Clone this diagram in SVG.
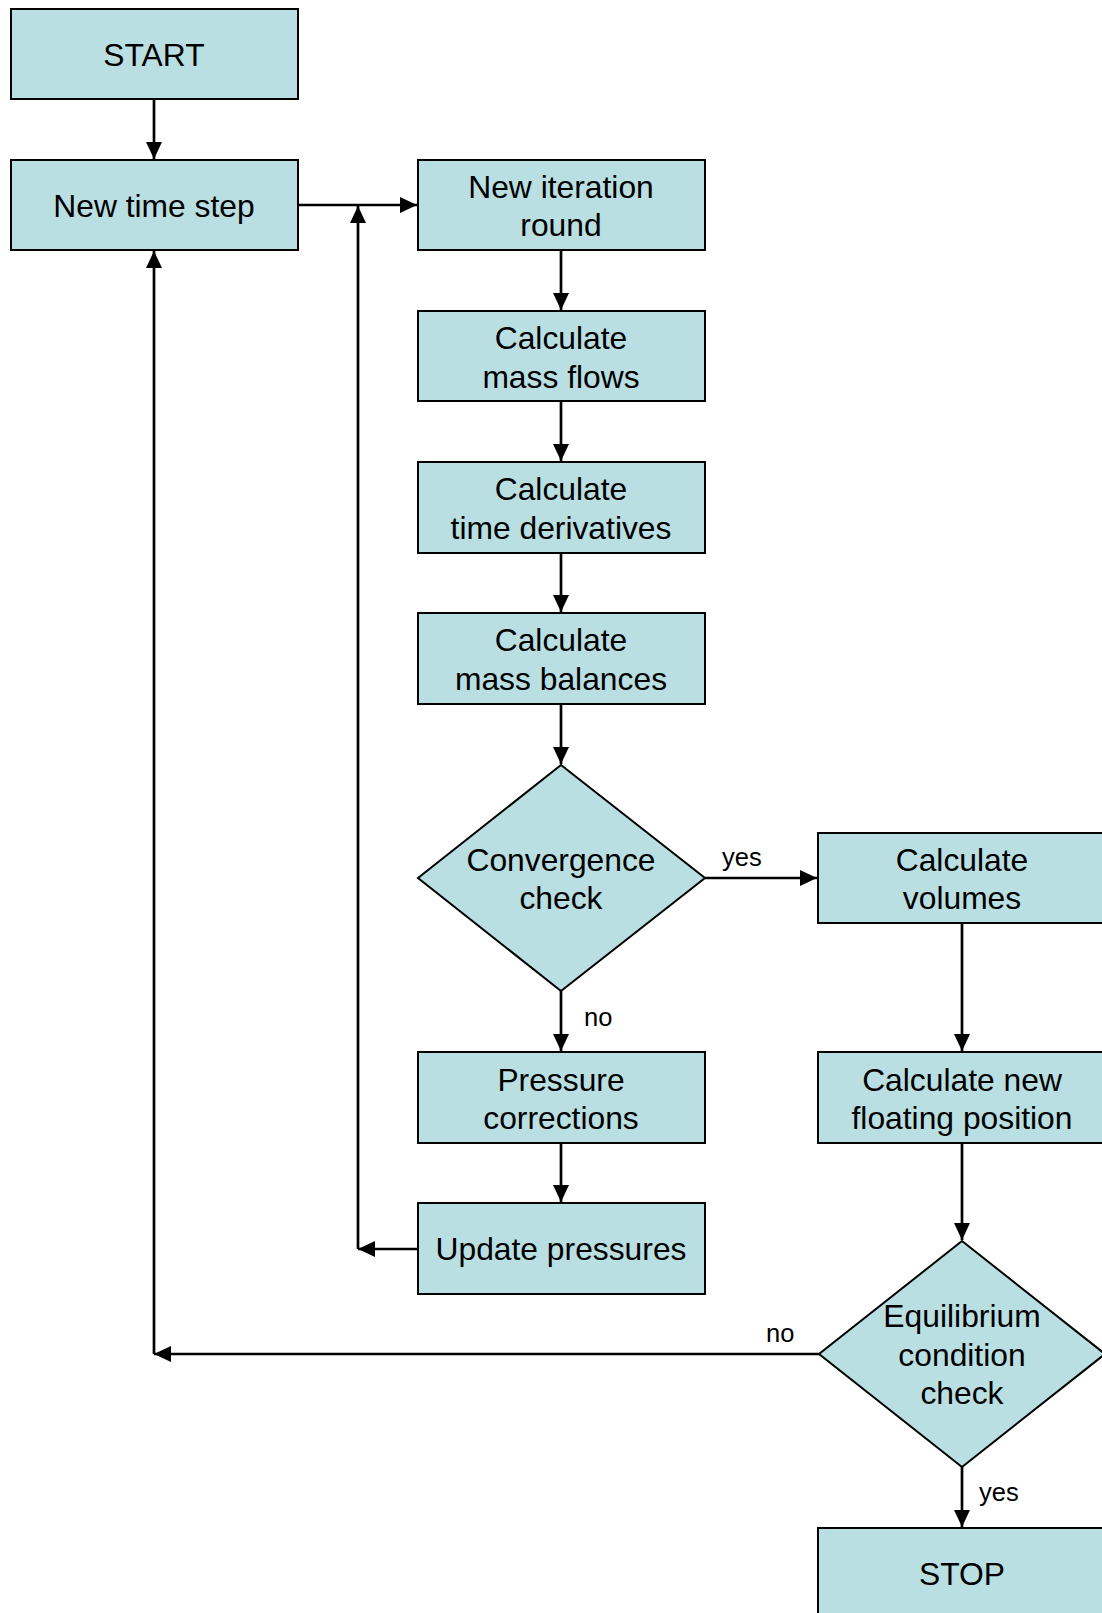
<svg xmlns="http://www.w3.org/2000/svg" width="1102" height="1613" viewBox="0 0 1102 1613">
<style>
.box{fill:#B9DFE2;stroke:#000;stroke-width:2}
.t{font-family:"Liberation Sans",Arial,sans-serif;font-size:31.8px;fill:#000;text-anchor:middle}
.l{font-family:"Liberation Sans",Arial,sans-serif;font-size:25.5px;fill:#000}
.c{fill:none;stroke:#000;stroke-width:2.7}
</style>
<defs>
<marker id="ah" markerUnits="userSpaceOnUse" markerWidth="17" markerHeight="16" refX="17" refY="8" orient="auto">
<path d="M0,0 L17,8 L0,16 z" fill="#000"/>
</marker>
</defs>
<rect width="1102" height="1613" fill="#fff"/>
<g id="connectors">
<line class="c" x1="154" y1="99" x2="154" y2="159" marker-end="url(#ah)"/>
<line class="c" x1="298" y1="205" x2="417" y2="205" marker-end="url(#ah)"/>
<line class="c" x1="561" y1="250" x2="561" y2="310" marker-end="url(#ah)"/>
<line class="c" x1="561" y1="401" x2="561" y2="461" marker-end="url(#ah)"/>
<line class="c" x1="561" y1="553" x2="561" y2="612" marker-end="url(#ah)"/>
<line class="c" x1="561" y1="704" x2="561" y2="764" marker-end="url(#ah)"/>
<line class="c" x1="561" y1="991" x2="561" y2="1051" marker-end="url(#ah)"/>
<line class="c" x1="561" y1="1143" x2="561" y2="1202" marker-end="url(#ah)"/>
<line class="c" x1="418" y1="1249" x2="358" y2="1249" marker-end="url(#ah)"/>
<line class="c" x1="358" y1="1249" x2="358" y2="206" marker-end="url(#ah)"/>
<line class="c" x1="705" y1="878" x2="817" y2="878" marker-end="url(#ah)"/>
<line class="c" x1="962" y1="923" x2="962" y2="1051" marker-end="url(#ah)"/>
<line class="c" x1="962" y1="1143" x2="962" y2="1240" marker-end="url(#ah)"/>
<line class="c" x1="962" y1="1467" x2="962" y2="1527" marker-end="url(#ah)"/>
<line class="c" x1="819" y1="1354" x2="154" y2="1354" marker-end="url(#ah)"/>
<line class="c" x1="154" y1="1354" x2="154" y2="251" marker-end="url(#ah)"/>
<text class="l" x="722" y="866">yes</text>
<text class="l" x="584" y="1026">no</text>
<text class="l" x="766" y="1342">no</text>
<text class="l" x="979" y="1501">yes</text>
</g>
<g id="start"><rect class="box" x="11" y="9" width="287" height="90"/><text class="t" x="154" y="66">START</text></g>
<g id="new-time-step"><rect class="box" x="11" y="160" width="287" height="90"/><text class="t" x="154" y="217">New time step</text></g>
<g id="new-iteration"><rect class="box" x="418" y="160" width="287" height="90"/><text class="t" x="561" y="198">New iteration</text><text class="t" x="561" y="236">round</text></g>
<g id="mass-flows"><rect class="box" x="418" y="311" width="287" height="90"/><text class="t" x="561" y="349">Calculate</text><text class="t" x="561" y="388">mass flows</text></g>
<g id="time-derivatives"><rect class="box" x="418" y="462" width="287" height="91"/><text class="t" x="561" y="500">Calculate</text><text class="t" x="561" y="539">time derivatives</text></g>
<g id="mass-balances"><rect class="box" x="418" y="613" width="287" height="91"/><text class="t" x="561" y="651">Calculate</text><text class="t" x="561" y="690">mass balances</text></g>
<g id="convergence"><polygon class="box" points="561,765 705,878 561,991 418,878"/><text class="t" x="561" y="871">Convergence</text><text class="t" x="561" y="909">check</text></g>
<g id="volumes"><rect class="box" x="818" y="833" width="288" height="90"/><text class="t" x="962" y="871">Calculate</text><text class="t" x="962" y="909">volumes</text></g>
<g id="pressure-corrections"><rect class="box" x="418" y="1052" width="287" height="91"/><text class="t" x="561" y="1091">Pressure</text><text class="t" x="561" y="1129">corrections</text></g>
<g id="floating-position"><rect class="box" x="818" y="1052" width="288" height="91"/><text class="t" x="962" y="1091">Calculate new</text><text class="t" x="962" y="1129">floating position</text></g>
<g id="update-pressures"><rect class="box" x="418" y="1203" width="287" height="91"/><text class="t" x="561" y="1260">Update pressures</text></g>
<g id="equilibrium"><polygon class="box" points="962,1241 1105,1354 962,1467 819,1354"/><text class="t" x="962" y="1327">Equilibrium</text><text class="t" x="962" y="1366">condition</text><text class="t" x="962" y="1404">check</text></g>
<g id="stop"><rect class="box" x="818" y="1528" width="288" height="91"/><text class="t" x="962" y="1585">STOP</text></g>
</svg>
